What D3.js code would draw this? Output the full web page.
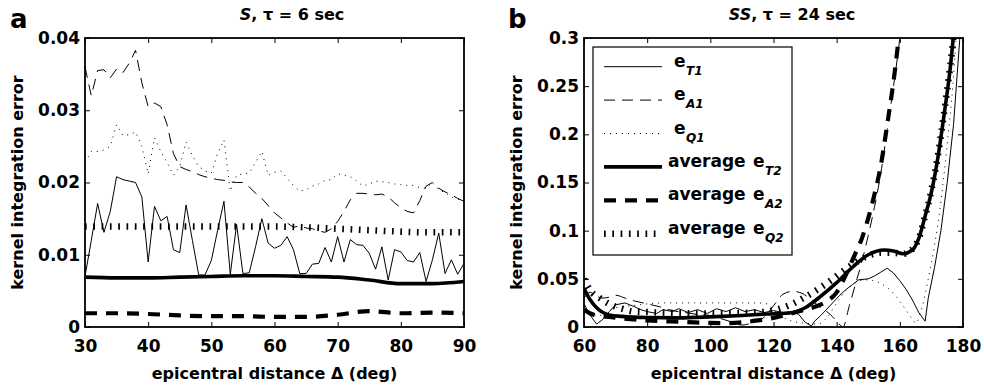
<!DOCTYPE html>
<html>
<head>
<meta charset="utf-8">
<script src="https://cdn.jsdelivr.net/npm/d3@7"></script>
<style>
body { margin: 0; background: #fff; }
svg text { font-family: "DejaVu Sans", sans-serif; font-weight: bold; fill: #000; }
</style>
</head>
<body>
<svg id="chart" width="984" height="389"></svg>
<script>
// panel a: S, tau = 6 sec, one value per degree
const aDeg = d3.range(30, 91);
const aT1 = [0.0070,0.0120,0.0171,0.0131,0.0160,0.0208,0.0204,0.0202,0.0200,0.0180,
    0.0090,0.0167,0.0147,0.0153,0.0107,0.0103,0.0169,0.0120,0.0072,0.0072,
    0.0092,0.0134,0.0174,0.0073,0.0142,0.0074,0.0075,0.0111,0.0150,0.0116,
    0.0109,0.0113,0.0125,0.0107,0.0074,0.0074,0.0087,0.0088,0.0110,0.0090,
    0.0125,0.0090,0.0121,0.0114,0.0113,0.0102,0.0080,0.0111,0.0065,0.0107,
    0.0104,0.0092,0.0090,0.0103,0.0063,0.0093,0.0130,0.0074,0.0093,0.0073,
    0.0088];
const aA1 = [0.0360,0.0320,0.0355,0.0356,0.0345,0.0357,0.0352,0.0365,0.0383,0.0338,
    0.0305,0.0310,0.0305,0.0280,0.0240,0.0222,0.0218,0.0215,0.0211,0.0208,
    0.0206,0.0204,0.0203,0.0201,0.0200,0.0200,0.0194,0.0185,0.0178,0.0168,
    0.0158,0.0151,0.0144,0.0138,0.0140,0.0137,0.0136,0.0133,0.0131,0.0136,
    0.0146,0.0160,0.0176,0.0185,0.0185,0.0184,0.0183,0.0184,0.0180,0.0172,
    0.0165,0.0160,0.0158,0.0175,0.0195,0.0200,0.0192,0.0187,0.0183,0.0178,
    0.0174];
const aQ1 = [0.0228,0.0243,0.0243,0.0245,0.0250,0.0280,0.0265,0.0266,0.0270,0.0250,
    0.0212,0.0262,0.0243,0.0228,0.0210,0.0222,0.0256,0.0237,0.0222,0.0216,
    0.0213,0.0240,0.0259,0.0188,0.0210,0.0212,0.0213,0.0228,0.0243,0.0210,
    0.0214,0.0216,0.0206,0.0196,0.0188,0.0190,0.0195,0.0198,0.0203,0.0204,
    0.0212,0.0210,0.0208,0.0202,0.0195,0.0198,0.0202,0.0201,0.0200,0.0198,
    0.0197,0.0196,0.0196,0.0193,0.0192,0.0200,0.0190,0.0186,0.0180,0.0177,
    0.0174];
const aAvgDeg = [30, 35, 40, 45, 50, 55, 60, 65, 70, 75, 80, 85, 90];
const aT2 = [0.0069,0.0068,0.0068,0.0069,0.0070,0.0071,0.0071,0.0070,0.0069,0.0065,0.0060,0.0060,0.0063];
const aA2 = [0.0019,0.0019,0.0018,0.0016,0.0015,0.0015,0.0014,0.0014,0.0017,0.0022,0.0019,0.0020,0.0019];
const aQ2 = [0.0139,0.0139,0.0139,0.0139,0.0139,0.0139,0.0139,0.0138,0.0136,0.0134,0.0132,0.0131,0.0131];

// panel b: SS, tau = 24 sec, [degree, error]
const bT1 = [[60,0.024],[62,0.012],[64,0.003],[66,0.008],[68,0.016],[70,0.023],[73,0.025],[76,0.021],
    [78,0.018],[80,0.016],[83,0.014],[85,0.018],[88,0.016],[90,0.019],[93,0.015],[96,0.018],[99,0.014],
    [102,0.019],[105,0.016],[108,0.020],[111,0.016],[114,0.018],[117,0.015],[120,0.017],[123,0.015],
    [126,0.016],[128,0.013],[130,0.005],[132,0.001],[133,0.006],[135,0.012],[137,0.019],[139,0.026],
    [141,0.033],[143,0.039],[145,0.044],[147,0.049],[150,0.050],[152,0.053],[154,0.057],[156,0.061],
    [158,0.056],[160,0.048],[162,0.039],[164,0.028],[166,0.015],[168,0.006],[169,0.030],[171,0.062],
    [173,0.100],[175,0.150],[177,0.210],[179,0.300]];
const bA1 = [[60,0.030],[62,0.036],[64,0.032],[66,0.030],[68,0.031],[70,0.033],[73,0.030],[76,0.027],
    [80,0.024],[84,0.021],[88,0.017],[92,0.015],[96,0.013],[100,0.012],[104,0.008],[107,0.005],
    [110,0.002],[113,0.004],[117,0.010],[120,0.022],[123,0.034],[126,0.037],[129,0.035],[132,0.028],
    [135,0.020],[138,0.013],[140,0.006],[142,0.000],[144,0.022],[146,0.045],[148,0.068],[150,0.095],
    [152,0.125],[154,0.160],[156,0.205],[158,0.250],[160,0.300],[161,0.330]];
const bQ1 = [[60,0.018],[62,0.013],[65,0.012],[68,0.017],[70,0.020],[75,0.022],[80,0.024],[85,0.025],
    [90,0.025],[95,0.025],[100,0.025],[105,0.025],[110,0.025],[115,0.025],[118,0.024],[120,0.018],
    [123,0.010],[126,0.006],[130,0.004],[134,0.003],[137,0.010],[140,0.025],[143,0.038],[146,0.046],
    [149,0.049],[152,0.048],[155,0.043],[158,0.035],[161,0.022],[164,0.008],[165,0.004],[167,0.020],
    [169,0.050],[171,0.085],[173,0.130],[175,0.190],[177,0.260],[178,0.310]];
const bT2 = [[60,0.040],[62,0.028],[64,0.020],[66,0.015],[68,0.0125],[72,0.011],[80,0.0098],[90,0.0095],
    [100,0.0105],[110,0.012],[118,0.0135],[125,0.0145],[130,0.020],[135,0.032],[140,0.046],[145,0.062],
    [150,0.075],[155,0.080],[158,0.079],[161,0.076],[164,0.080],[166,0.092],[168,0.115],[170,0.140],
    [172,0.175],[174,0.220],[176,0.270],[178,0.340]];
const bA2 = [[60,0.018],[62,0.014],[65,0.0115],[68,0.0105],[72,0.0088],[76,0.0078],[80,0.0068],[85,0.006],
    [90,0.0055],[95,0.0047],[100,0.0042],[105,0.004],[110,0.0048],[115,0.0068],[120,0.0095],[125,0.0135],
    [130,0.018],[134,0.022],[137,0.027],[140,0.036],[142,0.048],[144,0.062],[146,0.077],[148,0.092],
    [150,0.113],[152,0.138],[154,0.168],[156,0.210],[158,0.255],[160,0.310]];
const bQ2 = [[60,0.050],[62,0.038],[65,0.030],[68,0.024],[72,0.019],[76,0.016],[80,0.0155],[90,0.0145],
    [100,0.014],[110,0.0145],[118,0.016],[122,0.019],[126,0.024],[130,0.031],[134,0.039],[138,0.048],
    [142,0.058],[146,0.067],[150,0.074],[154,0.077],[158,0.077],[161,0.076],[164,0.081],[166,0.092],
    [168,0.115],[170,0.142],[172,0.177],[174,0.222],[176,0.272],[178,0.330]];

const aXTicks = [30, 40, 50, 60, 70, 80, 90];
const aYTicks = [0, 0.01, 0.02, 0.03, 0.04];
const bXTicks = [60, 80, 100, 120, 140, 160, 180];
const bYTicks = [0, 0.05, 0.1, 0.15, 0.2, 0.25, 0.3];

const legendKeys = ["T1", "A1", "Q1", "T2", "A2", "Q2"];
const legendPrefix = ["", "", "", "average", "average", "average"];

const styles = {
    T1: {w: 1, dash: null},
    A1: {w: 1, dash: "11,7"},
    Q1: {w: 1, dash: "1,5"},
    T2: {w: 3.6, dash: null},
    A2: {w: 4.2, dash: "12,9"},
    Q2: {w: 6.5, dash: "1.7,6.6"}
};

const svg = d3.select("#chart");

function zip(xs, ys) {
    return xs.map((d, i) => [d, ys[i]]);
}

function drawPanel(p) {
    const x = d3.scaleLinear().domain(p.xDomain).range([p.left, p.right]);
    const y = d3.scaleLinear().domain(p.yDomain).range([p.bottom, p.top]);
    const g = svg.append("g");

    g.append("clipPath").attr("id", "clip-" + p.name)
        .append("rect")
        .attr("x", p.left).attr("y", p.top)
        .attr("width", p.right - p.left).attr("height", p.bottom - p.top);

    const plot = g.append("g").attr("clip-path", "url(#clip-" + p.name + ")");
    p.series.forEach(s => {
        const line = d3.line()
            .x(d => x(d[0]))
            .y(d => y(d[1]))
            .curve(s.smooth ? d3.curveMonotoneX : d3.curveLinear);
        plot.append("path")
            .datum(s.data)
            .attr("d", line)
            .attr("fill", "none")
            .attr("stroke", "#000")
            .attr("stroke-width", styles[s.key].w)
            .attr("stroke-dasharray", styles[s.key].dash);
    });

    const fmt = d3.format("~g");
    const axes = [
        [d3.axisBottom(x).tickValues(p.xTicks).tickPadding(13).tickFormat(d3.format("d")), `translate(0,${p.bottom})`],
        [d3.axisTop(x).tickValues(p.xTicks).tickFormat(""), `translate(0,${p.top})`],
        [d3.axisLeft(y).tickValues(p.yTicks).tickPadding(5).tickFormat(fmt), `translate(${p.left},0)`],
        [d3.axisRight(y).tickValues(p.yTicks).tickFormat(""), `translate(${p.right},0)`]
    ];
    axes.forEach(([ax, tr]) => {
        const a = g.append("g").attr("transform", tr).call(ax.tickSize(-5));
        a.select(".domain").remove();
        a.selectAll("line").attr("stroke", "#000").attr("stroke-width", 1);
        a.selectAll("text").style("font-size", "17px");
    });

    g.append("rect")
        .attr("x", p.left).attr("y", p.top)
        .attr("width", p.right - p.left).attr("height", p.bottom - p.top)
        .attr("fill", "none").attr("stroke", "#000").attr("stroke-width", 1.8);

    // title
    const t = g.append("text")
        .attr("x", p.titleX).attr("y", 20)
        .attr("text-anchor", "middle")
        .style("font-size", "16px");
    t.append("tspan").style("font-style", "italic").text(p.phase);
    t.append("tspan").text(p.titleRest);

    // panel letter
    g.append("text").attr("x", p.letterX).attr("y", 28)
        .style("font-size", "26px").text(p.name);

    g.append("text")
        .attr("x", (p.left + p.right) / 2).attr("y", 379)
        .attr("text-anchor", "middle")
        .style("font-size", "16px")
        .text("epicentral distance \u0394 (deg)");

    g.append("text")
        .attr("transform", `translate(${p.ylabelX},${(p.top + p.bottom) / 2}) rotate(-90)`)
        .attr("text-anchor", "middle")
        .style("font-size", "16px")
        .text("kernel integration error");
}

drawPanel({
    name: "a", left: 85, right: 464, top: 38, bottom: 327,
    xDomain: [30, 90], yDomain: [0, 0.04],
    xTicks: aXTicks, yTicks: aYTicks,
    titleX: 292, phase: "S", titleRest: ", \u03c4 = 6 sec",
    letterX: 10, ylabelX: 23,
    series: [
        {key: "Q1", data: zip(aDeg, aQ1)},
        {key: "A1", data: zip(aDeg, aA1)},
        {key: "T1", data: zip(aDeg, aT1)},
        {key: "Q2", data: zip(aAvgDeg, aQ2), smooth: true},
        {key: "A2", data: zip(aAvgDeg, aA2), smooth: true},
        {key: "T2", data: zip(aAvgDeg, aT2), smooth: true}
    ]
});

drawPanel({
    name: "b", left: 584, right: 963, top: 38, bottom: 327,
    xDomain: [60, 180], yDomain: [0, 0.3],
    xTicks: bXTicks, yTicks: bYTicks,
    titleX: 792, phase: "SS", titleRest: ", \u03c4 = 24 sec",
    letterX: 508, ylabelX: 522,
    series: [
        {key: "Q1", data: bQ1, smooth: true},
        {key: "A1", data: bA1, smooth: true},
        {key: "T1", data: bT1},
        {key: "Q2", data: bQ2, smooth: true},
        {key: "A2", data: bA2, smooth: true},
        {key: "T2", data: bT2, smooth: true}
    ]
});

// legend in panel b
const legend = svg.append("g");
legend.append("rect")
    .attr("x", 593).attr("y", 47).attr("width", 199).attr("height", 208)
    .attr("fill", "#fff").attr("stroke", "#000").attr("stroke-width", 1.2);

legendKeys.forEach((k, i) => {
    const ly = 66.7 + i * 33.4;
    legend.append("line")
        .attr("x1", 604).attr("x2", 662).attr("y1", ly).attr("y2", ly)
        .attr("stroke", "#000")
        .attr("stroke-width", styles[k].w)
        .attr("stroke-dasharray", styles[k].dash);
    let ex = 674;
    if (legendPrefix[i]) {
        legend.append("text").attr("x", 668).attr("y", ly)
            .style("font-size", "17px").text(legendPrefix[i]);
        ex = 753;
    }
    legend.append("text").attr("x", ex).attr("y", ly)
        .style("font-size", "17px").text("e");
    legend.append("text").attr("x", ex + 12).attr("y", ly + 8)
        .style("font-size", "12px").style("font-style", "italic").text(k);
});
</script>
</body>
</html>
